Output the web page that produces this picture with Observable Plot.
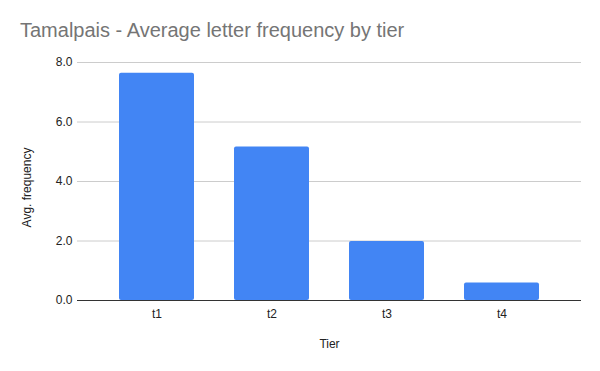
<!DOCTYPE html>
<html>
<head>
<meta charset="utf-8">
<script src="https://cdn.jsdelivr.net/npm/d3@7"></script>
<script src="https://cdn.jsdelivr.net/npm/@observablehq/plot@0.6"></script>
<style>
  html, body { margin: 0; padding: 0; background: #fff; }
  #title { font-family: "Liberation Sans", Arial, sans-serif; font-size: 20px; color: #757575;
           padding: 18px 0 0 20px; height: 26px; line-height: 24px; box-sizing: content-box; white-space: nowrap; }
  #chart svg text { font-size: 12px; }
</style>
</head>
<body>
<div id="title">Tamalpais - Average letter frequency by tier</div>
<div id="chart"></div>
<script>
const tiers = ["t1", "t2", "t3", "t4"];
const avgFrequency = [7.64, 5.16, 1.98, 0.59];
const yTicks = [0, 2, 4, 6, 8];
const xLabel = "Tier";
const yLabel = "Avg. frequency";

const data = tiers.map((t, i) => ({tier: t, value: avgFrequency[i]}));

const chart = Plot.plot({
  width: 600,
  height: 327,
  marginTop: 18,
  marginBottom: 71,
  marginLeft: 77,
  marginRight: 19,
  style: {fontFamily: "'Liberation Sans', Arial, sans-serif", fontSize: "12px", color: "#222", background: "#fff"},
  x: {domain: tiers, paddingInner: 0.35, paddingOuter: 0.35},
  y: {domain: [0, 8]},
  marks: [
    Plot.gridY(yTicks, {stroke: "#cccccc", strokeOpacity: 1}),
    Plot.barY(data, {x: "tier", y: "value", fill: "#4285F4", rx: 2}),
    Plot.ruleY([0], {stroke: "#333333", strokeWidth: 1}),
    Plot.axisY({ticks: yTicks, tickFormat: d3.format(".1f"), tickSize: 0, tickPadding: 5, label: null, fill: "#222"}),
    Plot.axisX({tickSize: 0, tickPadding: 9, label: xLabel, labelAnchor: "center", labelArrow: "none", labelOffset: 47, fill: "#222"}),
    Plot.text([yLabel], {frameAnchor: "left", textAnchor: "middle", lineAnchor: "middle", rotate: -90, dx: -50, dy: 6, fill: "#222", fontSize: 12})
  ]
});
document.getElementById("chart").appendChild(chart);
</script>
</body>
</html>
